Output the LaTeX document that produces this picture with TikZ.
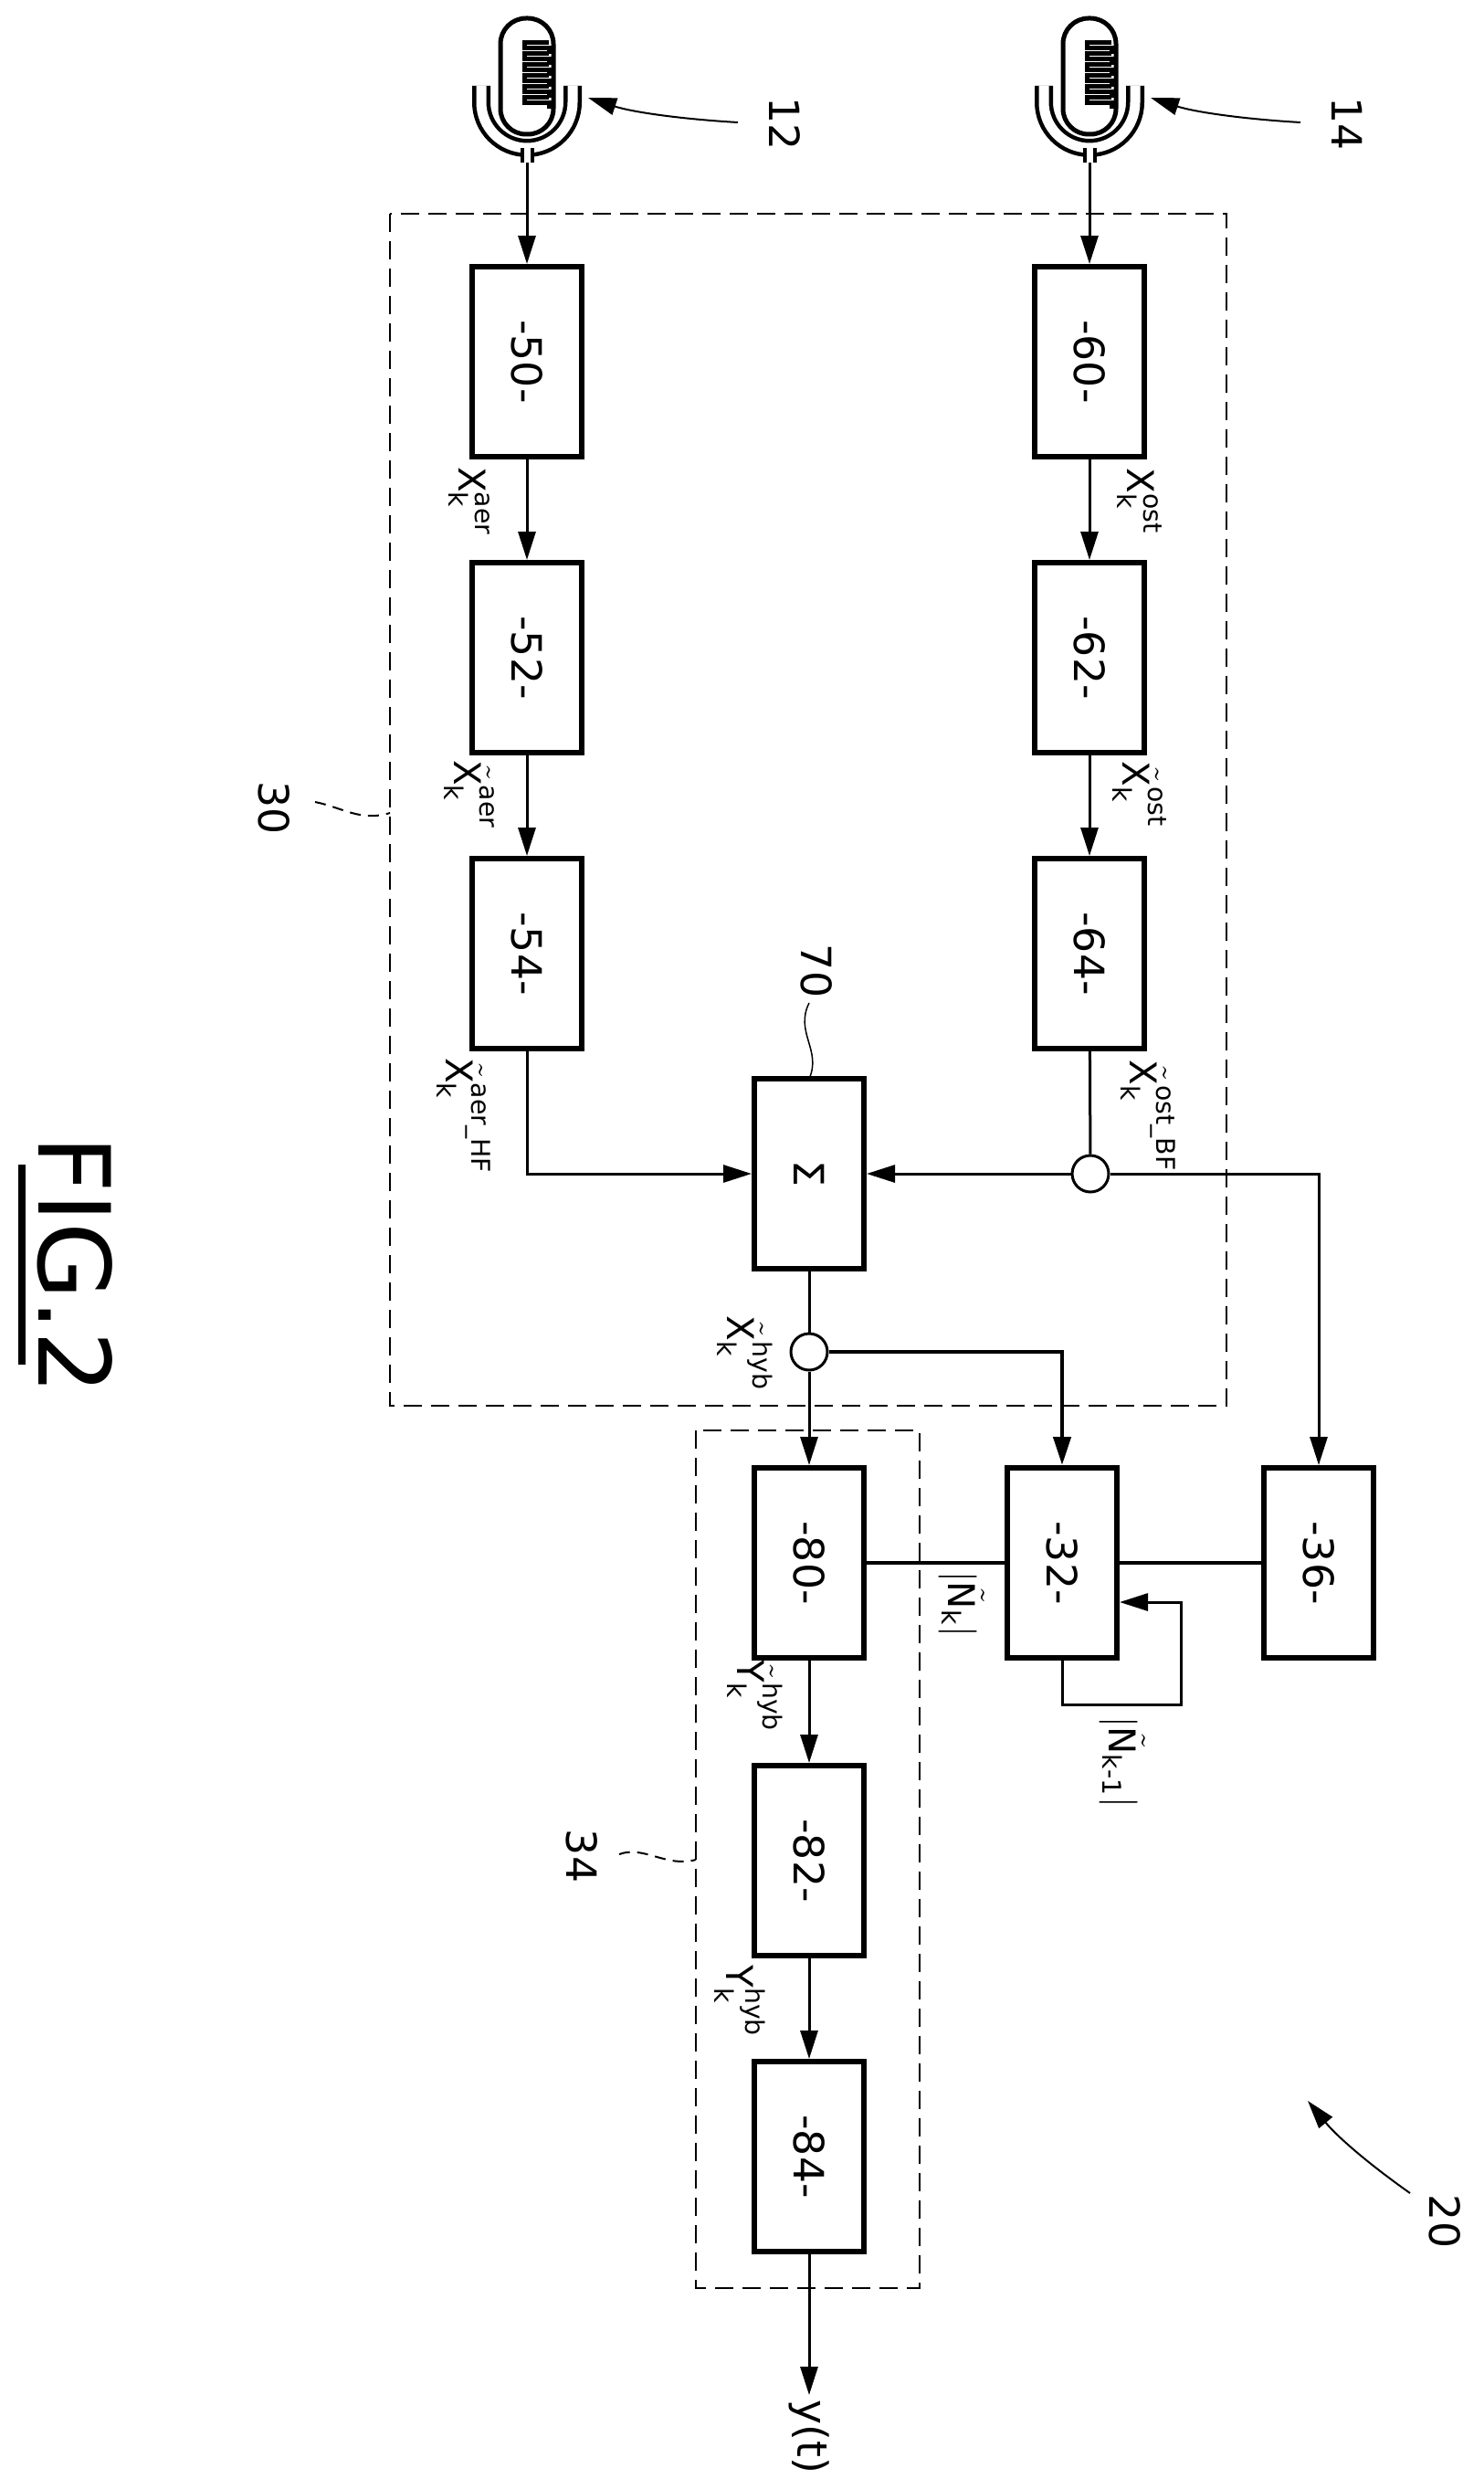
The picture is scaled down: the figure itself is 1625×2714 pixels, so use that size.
\documentclass[tikz,border=0pt]{standalone}
\usepackage{amsmath}
\usepackage{fontspec}
\setmainfont{DejaVu Sans}
\usetikzlibrary{arrows.meta,positioning}

\newcommand{\sg}[3]{$\tilde{\text{#1}}_{\text{k}}^{\text{#2}}$#3}
\newcommand{\plain}[2]{$\text{#1}_{\text{k}}^{\text{#2}}$}

\begin{document}
\begin{tikzpicture}[
        x=0.1mm, y=-0.1mm,
        >={Triangle[length=3.1mm,width=1.9mm]},
        every path/.style={line width=0.3mm},
        box/.style={draw, line width=0.6mm, minimum width=12mm, minimum height=20.8mm, inner sep=0pt, font=\fontsize{13}{15}\selectfont},
        junction/.style={draw, circle, line width=0.3mm, minimum size=4mm, inner sep=0pt},
        sig/.style={rotate=-90, font=\fontsize{11.5}{13}\selectfont, inner sep=0pt},
        ref/.style={rotate=-90, font=\fontsize{13}{15}\selectfont, inner sep=0pt},
        group/.style={draw, dash pattern=on 2mm off 1mm, line width=0.2mm},
        mic/.pic={
            \draw[line width=0.5mm, rounded corners=2.8mm] (-29,-158) rectangle (29,-31);
            \foreach \i in {0,...,5}
                \draw[line width=0.5mm] (24,-131+\i*12) -- (-3,-131+\i*12) -- (-3,-125+\i*12) -- (24,-125+\i*12) -- (24,-119+\i*12);
            \draw[double, line width=0.45mm, double distance=1.1mm] (-50,-84) -- (-50,-66) arc (180:0:50) -- (50,-84);
            \draw[double, line width=0.4mm, double distance=0.7mm] (0,-16) -- (0,0);
        }
    ]
    \useasboundingbox (0,0) rectangle (1625,2714);

    % Microphones
    \pic at (577,178) {mic};
    \pic at (1193,178) {mic};
    \coordinate (mic12) at (577,178);
    \coordinate (mic14) at (1193,178);

    % Group frames
    \draw[group] (427,234) rectangle (1343,1539);
    \draw[group] (762,1566) rectangle (1007,2505);

    % Blocks
    \node[box] (b50) at (577,396)  {\rotatebox{-90}{-50-}};
    \node[box] (b52) at (577,720)  {\rotatebox{-90}{-52-}};
    \node[box] (b54) at (577,1044) {\rotatebox{-90}{-54-}};
    \node[box] (b60) at (1193,396)  {\rotatebox{-90}{-60-}};
    \node[box] (b62) at (1193,720)  {\rotatebox{-90}{-62-}};
    \node[box] (b64) at (1193,1044) {\rotatebox{-90}{-64-}};
    \node[box] (sum) at (886,1285) {\rotatebox{-90}{Σ}};
    \node[junction] (jBF) at (1194,1285) {};
    \node[junction] (jhyb) at (886,1480) {};
    \node[box] (b80) at (886,1711) {\rotatebox{-90}{-80-}};
    \node[box] (b82) at (886,2037) {\rotatebox{-90}{-82-}};
    \node[box] (b84) at (886,2361) {\rotatebox{-90}{-84-}};
    \node[box] (b32) at (1163,1711) {\rotatebox{-90}{-32-}};
    \node[box] (b36) at (1444,1711) {\rotatebox{-90}{-36-}};
    \coordinate (yt) at (886,2622);
    \coordinate (fbturn) at (1293,1866);

    % Signal labels
    \node[sig] (laer) at (514,549) {\plain{X}{aer}};
    \node[sig] (lost) at (1248,549) {\plain{X}{ost}};
    \node[sig] (laer2) at (514,870) {\sg{X}{aer}{}};
    \node[sig] (lost2) at (1248,870) {\sg{X}{ost}{}};
    \node[sig] (laerhf) at (508,1222) {\sg{X}{aer\_HF}{}};
    \node[sig] (lostbf) at (1257,1222) {\sg{X}{ost\_BF}{}};
    \node[sig] (lhyb) at (816,1482) {\sg{X}{hyb}{}};
    \node[sig] (lyhyb1) at (827,1857) {\sg{Y}{hyb}{}};
    \node[sig] (lyhyb2) at (810,2191) {\plain{Y}{hyb}};
    \node[sig] (lnk) at (1053,1756) {$|\tilde{\text{N}}_{\text{k}}|$};
    \node[sig] (lnk1) at (1229,1929) {$|\tilde{\text{N}}_{\text{k-1}}|$};
    \node[ref] (lyt) at (886,2668) {y(t)};

    % Reference numerals
    \node[ref] (r12) at (859,136) {12};
    \node[ref] (r14) at (1475,136) {14};
    \node[ref] (r30) at (300,885) {30};
    \node[ref] (r70) at (894,1063) {70};
    \node[ref] (r34) at (637,2032) {34};
    \node[ref] (r20) at (1582,2432) {20};
    \node[rotate=-90, font=\fontsize{31}{36}\selectfont, inner sep=0pt] (fig) at (82,1385) {FIG.2};
    \draw[line width=0.8mm] (24,1275) -- (24,1494);

    % Leaders
    \draw[->, line width=0.2mm] (808,134) .. controls (740,130) and (690,122) .. (644,107);
    \draw[->, line width=0.2mm] (1424,134) .. controls (1356,130) and (1306,122) .. (1260,107);
    \draw[->, line width=0.2mm] (1544,2401) .. controls (1500,2370) and (1465,2340) .. (1432,2300);
    \draw[line width=0.2mm, dash pattern=on 1.2mm off 0.8mm] (345,878) .. controls (375,884) and (395,900) .. (427,890);
    \draw[line width=0.2mm, dash pattern=on 1.2mm off 0.8mm] (678,2030) .. controls (705,2020) and (730,2045) .. (762,2036);
    \draw[line width=0.15mm] (886,1098) .. controls (870,1130) and (900,1150) .. (886,1181);

    % Edges
    \draw[->] (mic12) -- (b50);
    \draw[->] (b50) -- (b52);
    \draw[->] (b52) -- (b54);
    \draw[->] (mic14) -- (b60);
    \draw[->] (b60) -- (b62);
    \draw[->] (b62) -- (b64);
    \draw[->] (b54.south) |- (sum.west);
    \draw (b64) -- (jBF);
    \draw[->] (jBF) -- (sum.east);
    \draw[->] (jBF) -| (b36.north);
    \draw (sum) -- (jhyb);
    \draw[->] (jhyb) -- (b80);
    \draw[->, line width=0.45mm] (jhyb) -| (b32.north);
    \draw[line width=0.45mm] (b80) -- (b32) -- (b36);
    \draw[->] (b32.south) |- (fbturn) |- (b32.east |- 0,1754);
    \draw[->] (b80) -- (b82);
    \draw[->] (b82) -- (b84);
    \draw[->] (b84) -- (yt);

\end{tikzpicture}
\end{document}
